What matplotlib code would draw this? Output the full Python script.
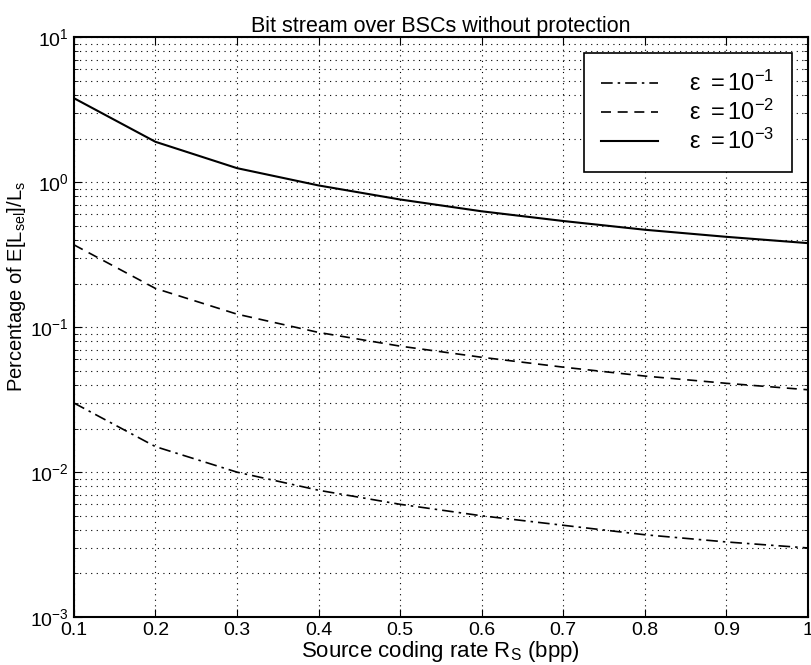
import matplotlib
matplotlib.use("Agg")
import matplotlib.pyplot as plt
import numpy as np

plt.rcParams['font.family'] = ['Liberation Sans', 'DejaVu Sans']
plt.rcParams['mathtext.fontset'] = 'custom'
plt.rcParams['mathtext.rm'] = 'Liberation Sans'
plt.rcParams['mathtext.it'] = 'Liberation Sans'

rate = [0.1, 0.2, 0.3, 0.4, 0.5, 0.6, 0.7, 0.8, 0.9, 1.0]
eps_1e1 = [0.030, 0.015, 0.0100, 0.0075, 0.0060, 0.0050, 0.0043, 0.0037, 0.0033, 0.0030]
eps_1e2 = [0.37, 0.185, 0.123, 0.092, 0.074, 0.062, 0.053, 0.046, 0.041, 0.037]
eps_1e3 = [3.8, 1.9, 1.25, 0.95, 0.76, 0.63, 0.54, 0.47, 0.42, 0.38]
xticks = [0.1, 0.2, 0.3, 0.4, 0.5, 0.6, 0.7, 0.8, 0.9, 1]
xticklabels = ["0.1", "0.2", "0.3", "0.4", "0.5", "0.6", "0.7", "0.8", "0.9", "1"]

fig = plt.figure(figsize=(8.12, 6.65), dpi=100)
ax = fig.add_axes([0.091, 0.072, 0.904, 0.872])

ax.semilogy(rate, eps_1e1, color='black', linestyle=(0, (7, 3, 1.5, 3)), lw=1.2,
            label=r'$\epsilon\ =10^{-1}$')
ax.semilogy(rate, eps_1e2, color='black', linestyle=(0, (6, 4)), lw=1.2,
            label=r'$\epsilon\ =10^{-2}$')
ax.semilogy(rate, eps_1e3, color='black', linestyle='-', lw=1.5,
            label=r'$\epsilon\ =10^{-3}$')

ax.set_xlim(0.1, 1)
ax.set_ylim(1e-3, 1e1)
ax.set_xticks(xticks)
ax.set_xticklabels(xticklabels)
ax.tick_params(axis='both', which='both', direction='in', labelsize=14,
               top=True, right=True)
ax.tick_params(axis='both', which='major', length=6)
ax.tick_params(axis='y', which='minor', length=3)
ax.grid(True, which='major', axis='both', linestyle=(0, (1, 4)), color='black', lw=0.8)
ax.grid(True, which='minor', axis='y', linestyle=(0, (1, 4)), color='black', lw=0.8)
for s in ax.spines.values():
    s.set_linewidth(1.5)

ax.set_title('Bit stream over BSCs without protection', fontsize=15.5, pad=4)
ax.set_xlabel(r'Source coding rate R$_\mathregular{S}$ (bpp)', fontsize=16, labelpad=0)
ax.set_ylabel(r'Percentage of E[L$_\mathregular{sel}$]/L$_\mathregular{s}$', fontsize=14.5,
              labelpad=0)
ax.yaxis.set_label_coords(-0.062, 0.57)

leg = ax.legend(loc='upper right', fontsize=17, frameon=True, fancybox=False,
                edgecolor='black', framealpha=1, handlelength=2.4,
                bbox_to_anchor=(0.978, 0.972), borderaxespad=0.0,
                labelspacing=0.15, borderpad=0.75, handletextpad=1.3)
leg.get_frame().set_linewidth(1.2)

fig.savefig('out.png', dpi=100)
